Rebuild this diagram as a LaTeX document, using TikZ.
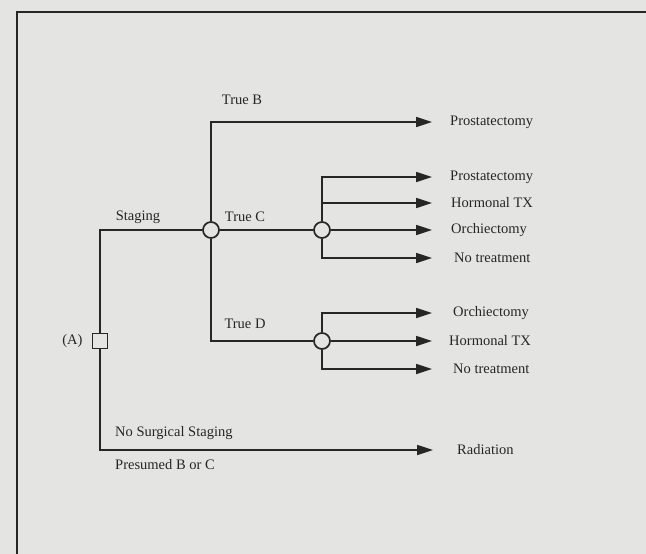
\documentclass[tikz,border=0pt]{standalone}
\usepackage{xcolor}
\usepackage{fontspec}
\setmainfont{Liberation Serif}
\usepackage{tikz}
\usetikzlibrary{
  positioning,
  arrows.meta
}
\definecolor{paper}{HTML}{E4E4E2}
\definecolor{ink}{HTML}{262626}

\begin{document}
\begin{tikzpicture}[x=1pt, y=-1pt,
      choice/.style={rectangle, draw=ink, line width=1.7pt, fill=paper, minimum size=15pt, inner sep=0pt},
      chance/.style={circle, draw=ink, line width=1.7pt, fill=paper, minimum size=16pt, inner sep=0pt},
      edge/.style={draw=ink, line width=1.7pt},
      branch/.style={edge, -{Triangle[length=16pt, width=10pt]}},
      lbl/.style={font=\fontsize{14.5}{16}\selectfont, text=ink, inner sep=0pt},
      outcome/.style={lbl, anchor=west}
    ]
      % Page and frame
      \fill[paper] (0,0) rectangle (646,554);
      \useasboundingbox (0,0) rectangle (646,554);
      \draw[ink, line width=1.8pt] (17,554) -- (17,12) -- (646,12);

      % Decision and chance nodes
      \node[choice] (A) at (100,341) {};
      \node[chance] (stage) at (211,230) {};
      \node[chance] (trueC) at (322,230) {};
      \node[chance] (trueD) at (322,341) {};

      % Arrow ends
      \coordinate (eB) at (432,122);
      \coordinate (eC1) at (432,177);
      \coordinate (eC2) at (432,203);
      \coordinate (eC3) at (432,230);
      \coordinate (eC4) at (432,258);
      \coordinate (eD1) at (432,313);
      \coordinate (eD2) at (432,341);
      \coordinate (eD3) at (432,369);
      \coordinate (eR) at (433,450);

      % Connectors
      \draw[edge] (A) |- (stage);
      \draw[branch] (stage) |- (eB);
      \draw[edge] (stage) -- (trueC);
      \draw[edge] (stage) |- (trueD);
      \draw[branch] (trueC) |- (eC1);
      \draw[branch] (trueC) |- (eC2);
      \draw[branch] (trueC) -- (eC3);
      \draw[branch] (trueC) |- (eC4);
      \draw[branch] (trueD) |- (eD1);
      \draw[branch] (trueD) -- (eD2);
      \draw[branch] (trueD) |- (eD3);
      \draw[branch] (A) |- (eR);

      % Branch labels
      \node[lbl, left=9pt of A] (lblA) {(A)};
      \node[lbl] (lblStaging) at (138,217) {Staging};
      \node[lbl] (lblB) at (242,100) {True B};
      \node[lbl] (lblC) at (245,217) {True C};
      \node[lbl] (lblD) at (245,324) {True D};
      \node[lbl, anchor=west] (lblNo) at (115,433) {No Surgical Staging};
      \node[lbl, anchor=west] (lblPres) at (115,465) {Presumed B or C};

      % Outcomes
      \node[outcome, right=18pt of eB] (oB) {Prostatectomy};
      \node[outcome, right=18pt of eC1] (oC1) {Prostatectomy};
      \node[outcome, right=19pt of eC2] (oC2) {Hormonal TX};
      \node[outcome, right=19pt of eC3] (oC3) {Orchiectomy};
      \node[outcome, right=22pt of eC4] (oC4) {No treatment};
      \node[outcome, right=21pt of eD1] (oD1) {Orchiectomy};
      \node[outcome, right=17pt of eD2] (oD2) {Hormonal TX};
      \node[outcome, right=21pt of eD3] (oD3) {No treatment};
      \node[outcome, right=24pt of eR] (oR) {Radiation};
    \end{tikzpicture}
\end{document}
